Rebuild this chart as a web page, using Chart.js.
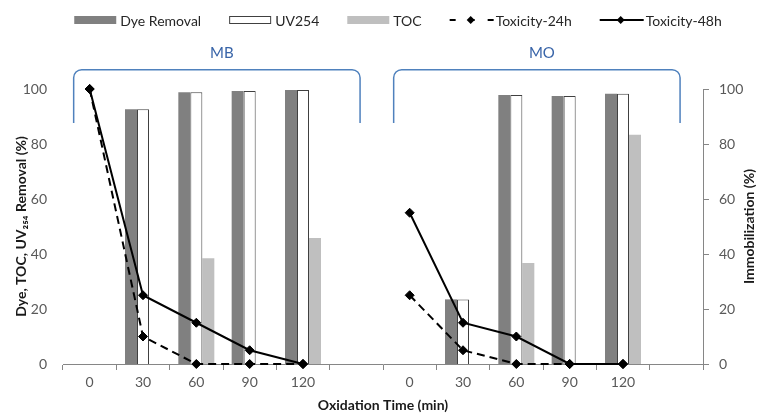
<!DOCTYPE html>
<html><head><meta charset="utf-8">
<script src="https://cdn.jsdelivr.net/npm/chart.js@4.4.1/dist/chart.umd.min.js"></script>
<style>html,body{margin:0;padding:0;background:#fff}#wrap{width:760px;height:418px}</style>
</head><body><div id="wrap"><canvas id="c" width="760" height="418"></canvas></div>
<script>
// ---- data ----
const categories = ['0','30','60','90','120','','0','30','60','90','120',''];
const groupLabels = ['MB','MO'];
const dyeRemoval = [null,92.6,98.8,99.3,99.6,null, null,23.5,97.8,97.5,98.3,null];
const uv254      = [null,92.6,98.8,99.3,99.6,null, null,23.5,97.8,97.5,98.3,null];
const toc        = [null,null,38.5,null,45.8,null, null,null,36.7,null,83.4,null];
const tox24      = [100,10,0,0,0,null, 25,5,0,0,0,null];
const tox48      = [100,25,15,5,0,null, 55,15,10,0,0,null];
const yTicks     = [0,20,40,60,80,100];
const rightTitle = 'Immobilization (%)';

const FONT = 'Lato, "Liberation Sans", "DejaVu Sans", sans-serif';
Chart.defaults.font.family = FONT;

const legendPlugin = {
  id: 'customLegend',
  afterDraw(chart) {
    const ctx = chart.ctx;
    const ds = chart.data.datasets;
    ctx.save();
    ctx.font = '14px ' + FONT;
    const boxW = 42, boxH = 8, gap = 4, spacing = 28, cy = 20;
    const widths = ds.map(d => boxW + gap + ctx.measureText(d.label).width);
    const total = widths.reduce((a, b) => a + b, 0) + spacing * (ds.length - 1);
    let x = (chart.chartArea.left + chart.chartArea.right) / 2 + 15 - total / 2;
    ds.forEach((d, i) => {
      if (d.type === 'line') {
        ctx.strokeStyle = d.borderColor;
        ctx.lineWidth = 2;
        ctx.setLineDash(d.borderDash && d.borderDash.length ? [6, 13] : []);
        ctx.beginPath(); ctx.moveTo(x, cy); ctx.lineTo(x + boxW + 2, cy); ctx.stroke();
        ctx.setLineDash([]);
        const mx = x + boxW / 2, r = 4;
        ctx.fillStyle = d.pointBackgroundColor;
        ctx.beginPath(); ctx.moveTo(mx - r, cy); ctx.lineTo(mx, cy - r); ctx.lineTo(mx + r, cy); ctx.lineTo(mx, cy + r); ctx.closePath(); ctx.fill();
      } else {
        ctx.fillStyle = d.backgroundColor;
        ctx.fillRect(x, cy - boxH / 2, boxW, boxH);
        if (d.borderWidth) {
          ctx.strokeStyle = d.borderColor; ctx.lineWidth = 1;
          ctx.strokeRect(x + 0.5, cy - boxH / 2 + 0.5, boxW - 1, boxH - 1);
        }
      }
      ctx.fillStyle = '#262626';
      ctx.textBaseline = 'middle';
      ctx.textAlign = 'left';
      ctx.fillText(d.label, x + boxW + gap, cy + 1);
      x += widths[i] + spacing;
    });
    ctx.restore();
  }
};

const bracketPlugin = {
  id: 'brackets',
  afterDraw(chart) {
    const {ctx, scales: {x, y, y1}} = chart;
    ctx.save();
    groupLabels.forEach((g, gi) => {
      const base = gi * 6;
      const x0 = x.getPixelForValue(base - 0.3);
      const x1 = x.getPixelForValue(base + 5.07);
      const yb = y.getPixelForValue(87.6);
      const yt = y.getPixelForValue(107);
      const r = 8;
      ctx.strokeStyle = '#4F81BD';
      ctx.lineWidth = 1.5;
      ctx.beginPath();
      ctx.moveTo(x0, yb);
      ctx.arcTo(x0, yt, x0 + r, yt, r);
      ctx.arcTo(x1, yt, x1, yb, r);
      ctx.lineTo(x1, yb);
      ctx.stroke();
      ctx.fillStyle = '#3864A8';
      ctx.font = '15px ' + FONT;
      ctx.textAlign = 'center';
      ctx.textBaseline = 'middle';
      ctx.fillText(g, (x0 + x1) / 2 + 5, yt - 17);
    });
    // right axis title, reading bottom-to-top
    ctx.translate(y1.right - 11, (chart.chartArea.top + chart.chartArea.bottom) / 2);
    ctx.rotate(-Math.PI / 2);
    ctx.font = 'bold 14px ' + FONT;
    ctx.fillStyle = '#1a1a1a';
    ctx.textAlign = 'center';
    ctx.textBaseline = 'middle';
    ctx.fillText(rightTitle, 0, 0);
    ctx.restore();
  }
};

const tickFont = {size: 14};
new Chart(document.getElementById('c'), {
  type: 'bar',
  data: {
    labels: categories,
    datasets: [
      {label: 'Dye Removal', data: dyeRemoval, backgroundColor: '#808080', borderWidth: 0, yAxisID: 'y', order: 1},
      {label: 'UV254', data: uv254, backgroundColor: '#FFFFFF', borderColor: '#404040', borderWidth: 1, yAxisID: 'y', order: 1},
      {label: 'TOC', data: toc, backgroundColor: '#BFBFBF', borderWidth: 0, yAxisID: 'y', order: 1},
      {type: 'line', label: 'Toxicity-24h', data: tox24, yAxisID: 'y1', order: 0,
       borderColor: '#000', backgroundColor: '#000', borderWidth: 2, borderDash: [8, 5],
       pointStyle: 'rectRot', pointRadius: 4.5, pointBackgroundColor: '#000', pointBorderColor: '#000', pointBorderWidth: 1,
       spanGaps: false, tension: 0, clip: false, fill: false},
      {type: 'line', label: 'Toxicity-48h', data: tox48, yAxisID: 'y1', order: 0,
       borderColor: '#000', backgroundColor: '#000', borderWidth: 2, borderDash: [],
       pointStyle: 'rectRot', pointRadius: 4.5, pointBackgroundColor: '#000', pointBorderColor: '#000', pointBorderWidth: 1,
       spanGaps: false, tension: 0, clip: false, fill: false}
    ]
  },
  options: {
    responsive: false,
    animation: false,
    devicePixelRatio: 1,
    categoryPercentage: 0.675,
    barPercentage: 1.0,
    layout: {padding: {top: 89, left: 0, right: 0, bottom: 0}},
    plugins: {legend: {display: false}, tooltip: {enabled: false}},
    scales: {
      x: {
        offset: true,
        grid: {offset: true, display: true, drawOnChartArea: false, drawTicks: true, tickLength: 6, color: '#868686'},
        border: {display: true, color: '#868686', width: 1},
        ticks: {autoSkip: false, maxRotation: 0, padding: 4, color: '#595959', font: tickFont},
        title: {display: true, text: 'Oxidation Time (min)', color: '#1a1a1a', font: {size: 14, weight: 'bold'}, padding: {top: 0, bottom: 4}},
        afterFit(s) { s.height = 54; }
      },
      y: {
        position: 'left', min: 0, max: 100,
        afterBuildTicks(s) { s.ticks = yTicks.map(v => ({value: v})); },
        ticks: {padding: 16, color: '#595959', font: tickFont},
        grid: {display: false, drawTicks: false},
        border: {display: false},
        title: {display: true, text: 'Dye, TOC, UV\u2082\u2085\u2084 Removal (%)', color: '#1a1a1a', font: {size: 14, weight: 'bold'}, padding: {top: 13, bottom: 0}},
        afterFit(s) { s.width = 63; }
      },
      y1: {
        position: 'right', min: 0, max: 100,
        afterBuildTicks(s) { s.ticks = yTicks.map(v => ({value: v})); },
        ticks: {padding: 10, color: '#595959', font: tickFont},
        grid: {display: true, drawOnChartArea: false, drawTicks: true, tickLength: 6, color: '#868686'},
        border: {display: true, color: '#868686', width: 1},
        title: {display: false},
        afterFit(s) { s.width = 57; }
      }
    }
  },
  plugins: [legendPlugin, bracketPlugin]
});
</script>
</body></html>
